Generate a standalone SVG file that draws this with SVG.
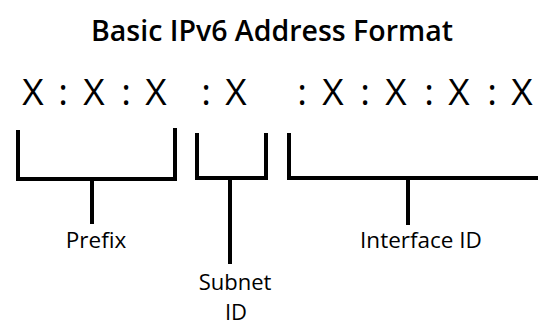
<svg xmlns="http://www.w3.org/2000/svg" width="538" height="326" viewBox="0 0 538 326">
<style>
text{font-family:"Open Sans","Liberation Sans",sans-serif;fill:#000;text-anchor:middle}
.title{font-size:28.5px;font-weight:600}
.addr{font-size:37px;font-weight:500}
.lbl{font-size:22.5px;font-weight:500}
.sub{font-size:22px;font-weight:500}
.br{fill:none;stroke:#000;stroke-width:4;stroke-linecap:butt;stroke-linejoin:miter}
</style>
<rect width="538" height="326" fill="#fff"/>
<g id="title"><text class="title" x="272" y="41">Basic IPv6 Address Format</text></g>
<g id="address">
<text class="addr" x="33" y="105">X</text>
<text class="addr" x="63" y="105">:</text>
<text class="addr" x="94" y="105">X</text>
<text class="addr" x="126" y="105">:</text>
<text class="addr" x="156" y="105">X</text>
<text class="addr" x="206" y="105">:</text>
<text class="addr" x="236" y="105">X</text>
<text class="addr" x="302" y="105">:</text>
<text class="addr" x="333" y="105">X</text>
<text class="addr" x="365" y="105">:</text>
<text class="addr" x="396" y="105">X</text>
<text class="addr" x="429" y="105">:</text>
<text class="addr" x="459" y="105">X</text>
<text class="addr" x="492" y="105">:</text>
<text class="addr" x="522" y="105">X</text>
</g>
<g id="connectors">
<path class="br" d="M18 130 V179 H175 V128"/>
<path class="br" d="M92 179 V224"/>
<path class="br" d="M197 133 V178 H266 V133"/>
<path class="br" d="M230 178 V264"/>
<path class="br" d="M289 133 V178 H540"/>
<path class="br" d="M408 178 V225"/>
</g>
<g id="prefix"><text class="lbl" x="96" y="248">Prefix</text></g>
<g id="subnet"><text class="sub" x="235" y="289.5">Subnet</text><text class="sub" x="236" y="320">ID</text></g>
<g id="interface"><text class="lbl" x="421" y="248">Interface ID</text></g>
</svg>
